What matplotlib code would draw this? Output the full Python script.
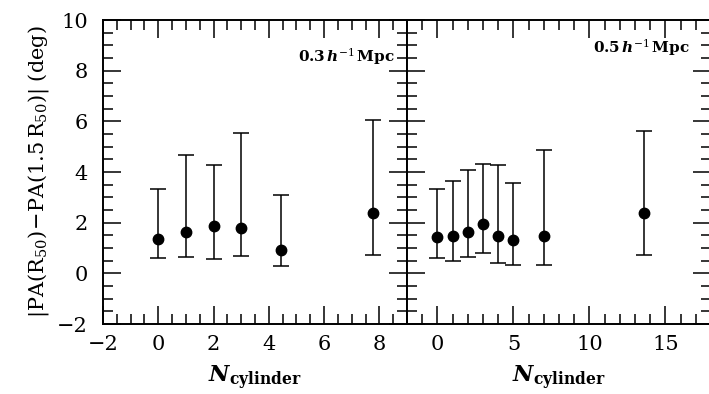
import matplotlib.pyplot as plt
from matplotlib.ticker import MultipleLocator

# left panel: 0.3 h^-1 Mpc
n_left = [0, 1, 2, 3, 4.44, 7.76]
pa_left = [1.36, 1.65, 1.87, 1.78, 0.94, 2.39]
hi_left = [3.34, 4.68, 4.27, 5.53, 3.10, 6.07]
lo_left = [0.61, 0.63, 0.55, 0.70, 0.28, 0.74]

# right panel: 0.5 h^-1 Mpc
n_right = [0, 1, 2, 3, 4, 5, 7, 13.6]
pa_right = [1.45, 1.48, 1.65, 1.95, 1.47, 1.33, 1.48, 2.39]
hi_right = [3.34, 3.64, 4.09, 4.32, 4.27, 3.55, 4.86, 5.61]
lo_right = [0.61, 0.50, 0.63, 0.81, 0.40, 0.34, 0.34, 0.74]

plt.rcParams['font.family'] = 'DejaVu Serif'
plt.rcParams['mathtext.fontset'] = 'dejavuserif'

fig = plt.figure(figsize=(7.09, 3.94), dpi=100)
w = 304 / 709
h = 304 / 394
ax1 = fig.add_axes([103 / 709, 70 / 394, w, h])
ax2 = fig.add_axes([103 / 709 + w, 70 / 394, w, h])


def style(ax):
    for s in ax.spines.values():
        s.set_linewidth(1.4)
    ax.tick_params(which='both', direction='in', top=True, right=True,
                   width=1.1, labelsize=15)
    ax.tick_params(which='major', length=13)
    ax.tick_params(which='minor', length=7)
    ax.tick_params(axis='x', pad=8)
    ax.tick_params(axis='y', pad=11)
    ax.set_ylim(-2, 10)
    ax.yaxis.set_major_locator(MultipleLocator(2))
    ax.yaxis.set_minor_locator(MultipleLocator(0.5))


def draw(ax, x, y, hi, lo):
    yerr = [[a - b for a, b in zip(y, lo)], [b - a for a, b in zip(y, hi)]]
    ax.errorbar(x, y, yerr=yerr, fmt='o', color='black', ms=7.5,
                elinewidth=1.1, capsize=6, capthick=1.1)


xlab = r'$\mathbfit{N}_{\mathbf{cylinder}}$'

style(ax1)
draw(ax1, n_left, pa_left, hi_left, lo_left)
ax1.set_xlim(-2, 9)
ax1.xaxis.set_major_locator(MultipleLocator(2))
ax1.xaxis.set_minor_locator(MultipleLocator(0.5))
ax1.set_xlabel(xlab, fontsize=16, labelpad=7)
ax1.set_ylabel(r'$|\mathrm{PA(R_{50})}\!-\!\mathrm{PA(1.5\,R_{50})}|$ (deg)',
               fontsize=15, labelpad=4)
ax1.text(0.96, 0.88, r'$\mathbf{0.3}\,\mathbfit{h}^{-1}\,\mathbf{Mpc}$', transform=ax1.transAxes,
         ha='right', va='center', fontsize=11)

style(ax2)
draw(ax2, n_right, pa_right, hi_right, lo_right)
ax2.set_xlim(-2, 18)
ax2.xaxis.set_major_locator(MultipleLocator(5))
ax2.xaxis.set_minor_locator(MultipleLocator(1))
ax2.tick_params(labelleft=False)
ax2.set_xlabel(xlab, fontsize=16, labelpad=7)
ax2.text(0.93, 0.91, r'$\mathbf{0.5}\,\mathbfit{h}^{-1}\,\mathbf{Mpc}$', transform=ax2.transAxes,
         ha='right', va='center', fontsize=11)

fig.savefig('out.png', dpi=100)
